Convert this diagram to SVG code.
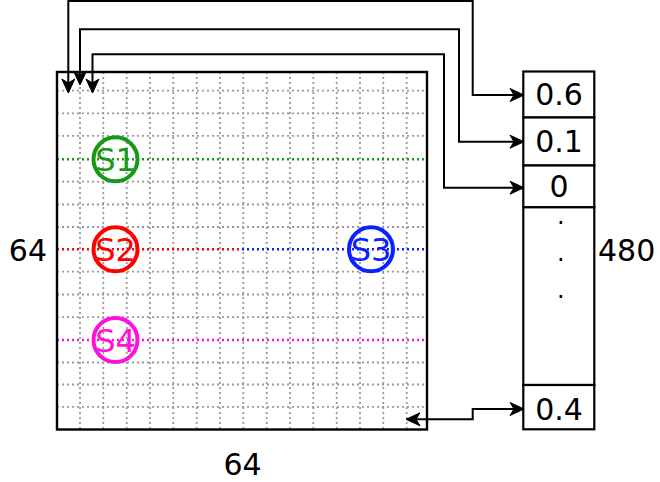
<svg xmlns="http://www.w3.org/2000/svg" width="660" height="482" viewBox="0 0 660 482">
<style>
text{font-family:"DejaVu Sans",sans-serif;font-size:30px;fill:#000}
.grid{stroke:#999;stroke-width:1.8;stroke-dasharray:2 3;fill:none}
.cl{stroke-width:2.4;stroke-dasharray:2 3;fill:none}
.box{fill:#fff;stroke:#000;stroke-width:2.2}
.conn{fill:none;stroke:#000;stroke-width:2}
.sn{fill:none;stroke-width:4}
.st{font-size:32px;text-anchor:middle}
.bt{text-anchor:middle}
</style>
<defs>
<marker id="ah" markerWidth="18" markerHeight="16" refX="0" refY="0" viewBox="-16 -8 18 16" orient="auto-start-reverse" markerUnits="userSpaceOnUse">
<path d="M1,0 L-13,-6.5 L-9,0 L-13,6.5 z" fill="#000" stroke="#000" stroke-width="1" stroke-linejoin="round"/>
</marker>
</defs>
<g id="matrix">
<rect x="57" y="72" width="370" height="357.5" fill="#fff"/>
<g class="grid">
<path d="M80,72V429.5M103.3,72V429.5M126.7,72V429.5M150,72V429.5M173.3,72V429.5M196.7,72V429.5M220,72V429.5M243.3,72V429.5M266.7,72V429.5M290,72V429.5M313.3,72V429.5M336.7,72V429.5M360,72V429.5M383.3,72V429.5M406.7,72V429.5"/>
<path d="M57,90.7H427M57,113.3H427M57,135.9H427M57,181.6H427M57,204.5H427M57,227H427M57,271.7H427M57,294.5H427M57,317.2H427M57,362.5H427M57,384.5H427M57,406.9H427"/>
</g>
<path class="cl" stroke="#169916" d="M57,159.3H427"/>
<path class="cl" stroke="#ff0000" d="M57,249.3H242"/>
<path class="cl" stroke="#0a22ff" d="M242,249.3H427"/>
<path class="cl" stroke="#ff10dc" d="M57,340H427"/>
<rect x="57" y="72" width="370" height="357.5" fill="none" stroke="#000" stroke-width="2.4"/>
</g>
<g id="S1"><circle class="sn" stroke="#169916" cx="115.5" cy="159.3" r="22"/><text class="st" x="115.5" y="171" style="fill:#169916">S1</text></g>
<g id="S2"><circle class="sn" stroke="#ff0000" cx="115.5" cy="249.3" r="22"/><text class="st" x="115.5" y="261" style="fill:#ff0000">S2</text></g>
<g id="S3"><circle class="sn" stroke="#0a22ff" cx="371" cy="249.3" r="22"/><text class="st" x="371" y="261" style="fill:#0a22ff">S3</text></g>
<g id="S4"><circle class="sn" stroke="#ff10dc" cx="115.5" cy="340" r="22"/><text class="st" x="115.5" y="351.7" style="fill:#ff10dc">S4</text></g>
<g id="box06"><rect class="box" x="523.3" y="71.5" width="71" height="46"/><text class="bt" x="559" y="105">0.6</text></g>
<g id="box01"><rect class="box" x="523.3" y="117.5" width="71" height="48"/><text class="bt" x="559" y="151.7">0.1</text></g>
<g id="box0"><rect class="box" x="523.3" y="165.5" width="71" height="41.8"/><text class="bt" x="559" y="196.7">0</text></g>
<g id="boxdots"><rect class="box" x="523.3" y="207.3" width="71" height="177.7"/>
<text class="bt" x="560.7" y="224" style="font-size:24px">.</text>
<text class="bt" x="560.7" y="261" style="font-size:24px">.</text>
<text class="bt" x="560.7" y="298" style="font-size:24px">.</text></g>
<g id="box04"><rect class="box" x="523.3" y="385" width="71" height="44.3"/><text class="bt" x="559" y="420">0.4</text></g>
<g id="labels">
<text x="47" y="261" text-anchor="end">64</text>
<text x="242.5" y="475" text-anchor="middle">64</text>
<text x="598" y="261">480</text>
</g>
<g id="connectors" class="conn">
<path d="M68.3,92 V1 H472.7 V95 H523" marker-start="url(#ah)" marker-end="url(#ah)"/>
<path d="M80,84 V29.3 H459 V141.7 H523" marker-start="url(#ah)" marker-end="url(#ah)"/>
<path d="M92.5,92 V54.3 H444 V187.7 H523" marker-start="url(#ah)" marker-end="url(#ah)"/>
<path d="M407,419.3 H472.7 V409 H523" marker-start="url(#ah)" marker-end="url(#ah)"/>
</g>
</svg>
